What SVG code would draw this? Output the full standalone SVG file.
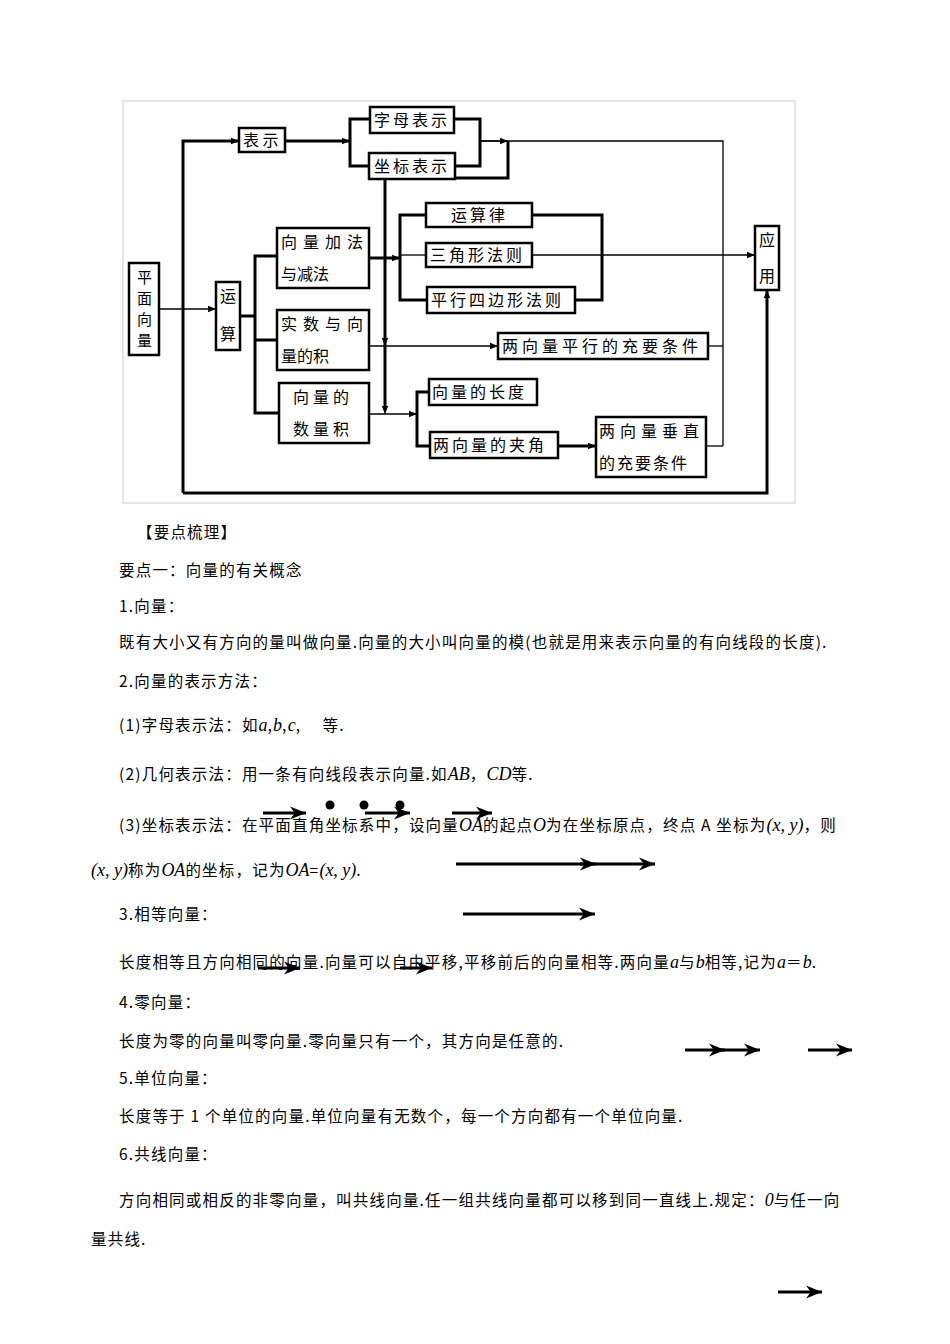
<svg xmlns="http://www.w3.org/2000/svg" width="950" height="1344" viewBox="0 0 950 1344">
<defs>
<marker id="a" viewBox="0 0 10 10" refX="10" refY="5" markerWidth="8" markerHeight="8" markerUnits="userSpaceOnUse" orient="auto"><path d="M0,1 L10,5 L0,9 z" fill="#000"/></marker>
<marker id="b" viewBox="0 0 10 10" refX="10" refY="5" markerWidth="16" markerHeight="16" markerUnits="userSpaceOnUse" orient="auto"><path d="M0,1 L10,5 L0,9 L3,5 z" fill="#000"/></marker>
</defs>
<style>
.n rect{fill:#fff;stroke:#000;stroke-width:2.5}
.n text,.t{font-family:"Noto Sans CJK SC","Liberation Serif",serif;font-size:16px;fill:#000}
.n text.s{font-size:15px}
.t{font-size:15.5px;letter-spacing:1.2px}
.i{font-family:"Liberation Serif",serif;font-style:italic;font-size:18px;letter-spacing:0}
.c path{fill:none;stroke:#000}
.k{stroke-width:3}
.h{stroke-width:1.3}
.v{stroke:#000;stroke-width:3}
</style>
<rect x="123" y="101" width="672" height="402" fill="none" stroke="#ccc"/>
<g class="c">
<path class="h" d="M159,309 H216" marker-end="url(#a)"/>
<path class="k" d="M183,493 V141 H239" marker-end="url(#a)"/>
<path class="k" d="M183,493 H767 V290" marker-end="url(#a)"/>
<path class="k" d="M285,141 H350" marker-end="url(#a)"/>
<path class="k" d="M370,119 H350 V166 H369"/>
<path class="k" d="M454,119 H480 V166 H455"/>
<path class="h" d="M480,141 H723 V446"/>
<path class="h" d="M480,141 H508" marker-end="url(#a)"/>
<path class="k" d="M508,141 V178 H385 V410"/>
<path class="h" d="M385,178 V346" marker-end="url(#a)"/>
<path class="h" d="M385,178 V414" marker-end="url(#a)"/>
<path class="k" d="M240,316 H255"/>
<path class="k" d="M277,256 H255 V413 H279"/>
<path class="k" d="M255,340 H277"/>
<path class="k" d="M369,258 H400" marker-end="url(#a)"/>
<path class="k" d="M426,215 H400 V300 H427"/>
<path class="h" d="M400,255 H426"/>
<path class="k" d="M532,215 H602 V300 H575"/>
<path class="h" d="M532,255 H755" marker-end="url(#a)"/>
<path class="h" d="M369,346 H498" marker-end="url(#a)"/>
<path class="h" d="M369,414 H417" marker-end="url(#a)"/>
<path class="k" d="M429,392 H417 V446 H430"/>
<path class="k" d="M558,446 H596" marker-end="url(#a)"/>
<path class="h" d="M706,446 H723"/>
<path class="h" d="M708,346 H723"/>
</g>
<g class="n" id="pmxl"><rect x="129" y="263" width="30" height="92"/><text class="s" x="137" y="283">平</text><text class="s" x="137" y="304">面</text><text class="s" x="137" y="325">向</text><text class="s" x="137" y="346">量</text></g>
<g class="n" id="ys"><rect x="216" y="282" width="24" height="68"/><text x="220" y="302">运</text><text x="220" y="340">算</text></g>
<g class="n" id="bs"><rect x="239" y="128" width="46" height="24"/><text x="243" y="146">表 示</text></g>
<g class="n" id="zm"><rect x="370" y="107" width="84" height="26"/><text x="374" y="126" letter-spacing="3">字母表示</text></g>
<g class="n" id="zb"><rect x="369" y="153" width="86" height="26"/><text x="374" y="172" letter-spacing="3">坐标表示</text></g>
<g class="n" id="jj"><rect x="277" y="228" width="92" height="60"/><text x="281" y="248" letter-spacing="6">向量加法</text><text x="281" y="280">与减法</text></g>
<g class="n" id="ss"><rect x="277" y="310" width="92" height="60"/><text x="281" y="330" letter-spacing="6">实数与向</text><text x="281" y="362">量的积</text></g>
<g class="n" id="sl"><rect x="279" y="383" width="90" height="60"/><text x="293" y="403" letter-spacing="4">向量的</text><text x="293" y="435" letter-spacing="4">数量积</text></g>
<g class="n" id="ysl"><rect x="426" y="203" width="106" height="24"/><text x="451" y="221" letter-spacing="3">运算律</text></g>
<g class="n" id="sj"><rect x="426" y="243" width="106" height="24"/><text x="430" y="261" letter-spacing="3">三角形法则</text></g>
<g class="n" id="pxs"><rect x="427" y="287" width="148" height="26"/><text x="431" y="306" letter-spacing="3">平行四边形法则</text></g>
<g class="n" id="px"><rect x="498" y="333" width="210" height="26"/><text x="502" y="352" letter-spacing="4">两向量平行的充要条件</text></g>
<g class="n" id="cd"><rect x="429" y="379" width="108" height="26"/><text x="432" y="398" letter-spacing="3">向量的长度</text></g>
<g class="n" id="jjj"><rect x="430" y="432" width="128" height="26"/><text x="433" y="451" letter-spacing="3">两向量的夹角</text></g>
<g class="n" id="cz"><rect x="596" y="417" width="110" height="60"/><text x="599" y="437" letter-spacing="5">两向量垂直</text><text x="599" y="469" letter-spacing="2">的充要条件</text></g>
<g class="n" id="yy"><rect x="755" y="226" width="24" height="64"/><text x="759" y="246">应</text><text x="759" y="282">用</text></g>
<g>
<text class="t" x="137" y="538">【要点梳理】</text>
<text class="t" x="119" y="576">要点一：向量的有关概念</text>
<text class="t" x="119" y="612">1.向量：</text>
<text class="t" x="119" y="648">既有大小又有方向的量叫做向量.向量的大小叫向量的模(也就是用来表示向量的有向线段的长度).</text>
<text class="t" x="119" y="687">2.向量的表示方法：</text>
<text class="t" x="119" y="731">(1)字母表示法：如<tspan class="i">a</tspan>,<tspan class="i">b</tspan>,<tspan class="i">c</tspan>,　 等.</text>
<text class="t" x="119" y="780">(2)几何表示法：用一条有向线段表示向量.如<tspan class="i">AB</tspan>，<tspan class="i">CD</tspan>等.</text>
<text class="t" x="119" y="831">(3)坐标表示法：在平面直角坐标系中，设向量<tspan class="i">OA</tspan>的起点<tspan class="i">O</tspan>为在坐标原点，终点 A 坐标为<tspan class="i" font-size="22">(x, y)</tspan>，则</text>
<text class="t" x="91" y="876"><tspan class="i" font-size="22">(x, y)</tspan>称为<tspan class="i">OA</tspan>的坐标，记为<tspan class="i">OA</tspan>=<tspan class="i" font-size="22">(x, y)</tspan>.</text>
<text class="t" x="119" y="920">3.相等向量：</text>
<text class="t" x="119" y="968">长度相等且方向相同的向量.向量可以自由平移,平移前后的向量相等.两向量<tspan class="i">a</tspan>与<tspan class="i">b</tspan>相等,记为<tspan class="i">a</tspan>＝<tspan class="i">b</tspan>.</text>
<text class="t" x="119" y="1008">4.零向量：</text>
<text class="t" x="119" y="1047">长度为零的向量叫零向量.零向量只有一个，其方向是任意的.</text>
<text class="t" x="119" y="1084">5.单位向量：</text>
<text class="t" x="119" y="1122">长度等于 1 个单位的向量.单位向量有无数个，每一个方向都有一个单位向量.</text>
<text class="t" x="119" y="1160">6.共线向量：</text>
<text class="t" x="119" y="1206">方向相同或相反的非零向量，叫共线向量.任一组共线向量都可以移到同一直线上.规定：<tspan class="i">0</tspan>与任一向</text>
<text class="t" x="91" y="1245">量共线.</text>
</g>
<g>
<circle cx="330" cy="805" r="4.5"/><circle cx="364" cy="805" r="4.5"/><circle cx="400" cy="805" r="4.5"/>
<path class="v" d="M263,813 H306" marker-end="url(#b)"/>
<path class="v" d="M365,813 H410" marker-end="url(#b)"/>
<path class="v" d="M452,813 H492" marker-end="url(#b)"/>
<path class="v" d="M456,864 H596" marker-end="url(#b)"/>
<path class="v" d="M580,864 H655" marker-end="url(#b)"/>
<path class="v" d="M463,914 H595" marker-end="url(#b)"/>
<path class="v" d="M258,968 H300" marker-end="url(#b)"/>
<path class="v" d="M400,968 H432" marker-end="url(#b)"/>
<path class="v" d="M685,1050 H725" marker-end="url(#b)"/>
<path class="v" d="M715,1050 H760" marker-end="url(#b)"/>
<path class="v" d="M808,1050 H852" marker-end="url(#b)"/>
<path class="v" d="M778,1292 H822" marker-end="url(#b)"/>
</g>
</svg>
